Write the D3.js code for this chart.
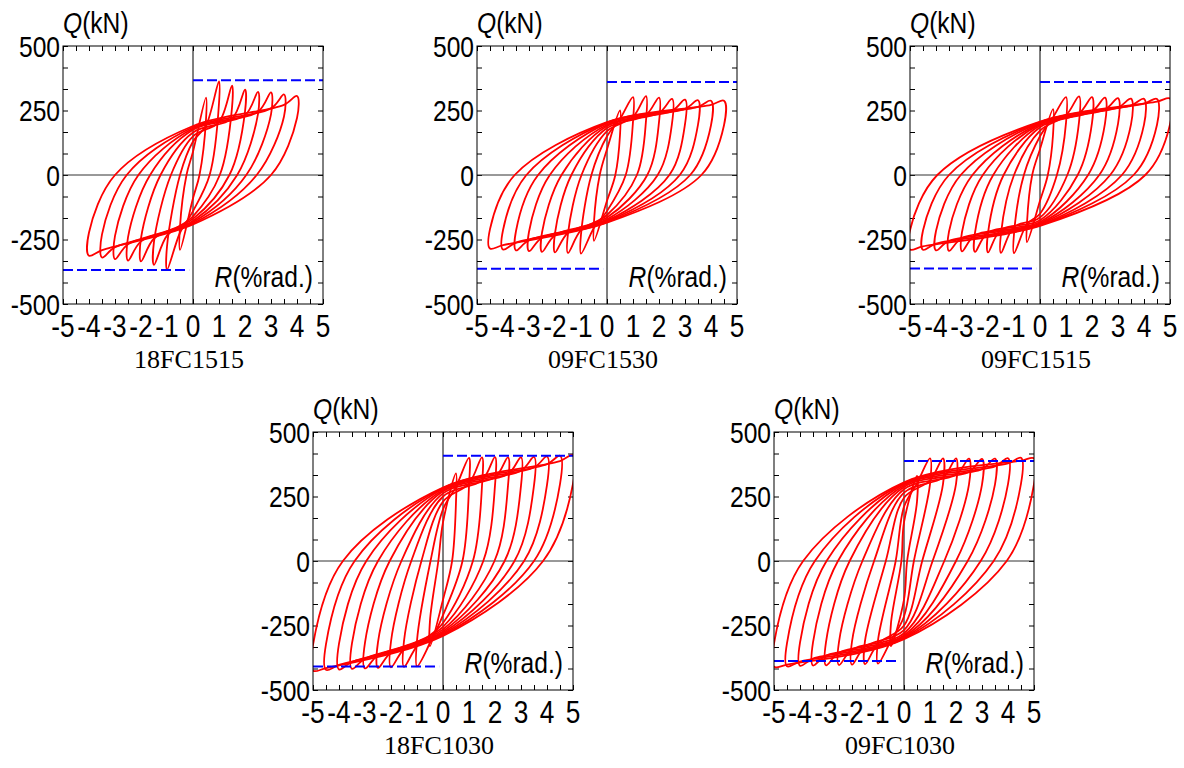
<!DOCTYPE html>
<html>
<head>
<meta charset="utf-8">
<script src="https://cdn.jsdelivr.net/npm/d3@7"></script>
<style>
  body { margin: 0; background: #fff; }
  svg { display: block; }
</style>
</head>
<body>
<svg id="chart" width="1184" height="768"></svg>
<script>
const specimens = ["18FC1515", "09FC1530", "09FC1515", "18FC1030", "09FC1030"];
const xTickLabels = [-5, -4, -3, -2, -1, 0, 1, 2, 3, 4, 5];
const yTickLabels = [-500, -250, 0, 250, 500];

// drift amplitude of each loop (%rad.)
const driftAmp = [
  [0.5, 1, 1.5, 2, 2.5, 3, 3.5, 4],
  [0.5, 1, 1.5, 2, 2.5, 3, 3.5, 4, 4.5],
  [0.5, 1, 1.5, 2, 2.5, 3, 3.5, 4, 4.5, 5],
  [0.5, 1, 1.5, 2, 2.5, 3, 3.5, 4, 4.5, 5],
  [0.5, 1, 1.5, 2, 2.5, 3, 3.5, 4, 4.5, 5]
];
// peak shear at +amplitude (kN)
const peakPosQ = [
  [300, 363, 346, 331, 322, 320, 312, 306],
  [250, 302, 306, 300, 295, 292, 290, 288, 288],
  [255, 302, 305, 302, 300, 298, 296, 295, 295, 296],
  [340, 400, 402, 403, 402, 402, 403, 405, 408, 410],
  [330, 398, 398, 398, 397, 396, 397, 398, 400, 398]
];
// peak shear at -amplitude (kN)
const peakNegQ = [
  [-290, -367, -348, -335, -332, -326, -320, -313],
  [-255, -305, -302, -300, -298, -295, -292, -289, -285],
  [-260, -303, -302, -300, -298, -296, -294, -292, -290, -289],
  [-330, -408, -410, -412, -414, -416, -418, -420, -422, -425],
  [-330, -398, -400, -402, -403, -404, -405, -406, -408, -410]
];
// drift where unloading from + peak crosses Q = 0
const zeroPosR = [
  [0.25, 0.64, 1.03, 1.4, 1.7, 2.05, 2.45, 3.0],
  [0.32, 0.72, 1.15, 1.55, 1.95, 2.4, 2.8, 3.2, 3.63],
  [0.3, 0.65, 1.05, 1.45, 1.85, 2.28, 2.7, 3.15, 3.6, 4.05],
  [0.35, 0.75, 1.15, 1.55, 1.98, 2.37, 2.75, 3.12, 3.5, 3.85],
  [0.12, 0.38, 0.7, 1.1, 1.55, 2.0, 2.45, 2.95, 3.45, 3.95]
];
// drift where unloading from - peak crosses Q = 0
const zeroNegR = [
  [-0.25, -0.5, -0.85, -1.25, -1.65, -2.1, -2.55, -3.0],
  [-0.28, -0.6, -0.98, -1.37, -1.75, -2.2, -2.65, -3.1, -3.55],
  [-0.3, -0.62, -1.0, -1.4, -1.8, -2.2, -2.6, -3.05, -3.5, -3.95],
  [-0.18, -0.48, -0.83, -1.22, -1.6, -2.05, -2.5, -2.95, -3.4, -3.85],
  [-0.1, -0.32, -0.7, -1.15, -1.6, -2.09, -2.54, -2.98, -3.43, -3.88]
];
// shear where each loop crosses R = 0 on its way to + and to -
const crossPosQ = [
  [90, 130, 150, 165, 175, 180, 185, 190],
  [100, 150, 170, 182, 190, 195, 200, 203, 205],
  [100, 150, 172, 185, 192, 197, 200, 203, 205, 207],
  [150, 200, 230, 250, 262, 270, 275, 280, 283, 285],
  [150, 210, 245, 265, 278, 287, 293, 298, 302, 305]
];
const crossNegQ = [
  [-90, -140, -160, -170, -178, -183, -188, -192],
  [-100, -140, -155, -165, -172, -177, -180, -183, -185],
  [-100, -150, -165, -175, -182, -187, -190, -193, -195, -197],
  [-150, -210, -240, -255, -265, -272, -278, -283, -287, -290],
  [-150, -215, -250, -268, -280, -288, -293, -297, -300, -303]
];
// reloading branch shear at R = 1 and R = 4 (positive), R = -1 and R = -4 (negative)
const reloadPosQ = [[205, 285], [225, 272], [231, 277], [300, 375], [312, 378]];
const reloadNegQ = [[-235, -302], [-214, -272], [-201, -266], [-330, -403], [-320, -390]];
// near-vertical drop just after a peak
const dropPosQ = [85, 95, 100, 110, 100];
const dropNegQ = [90, 75, 75, 100, 90];
// blue dashed strength lines
const strengthPosQ = [367, 360, 360, 408, 388];
const strengthNegQ = [-368, -363, -362, -409, -388];

const W = 260, H = 258;
const panelXY = [[63, 46], [477, 46], [910, 46], [313, 432], [774, 432]];
const sans = '"Liberation Sans", Arial, sans-serif';
const squeeze = 0.82; // narrow face look

const svg = d3.select("#chart");

specimens.forEach((name, p) => {
  const [px, py] = panelXY[p];
  const x = d3.scaleLinear().domain([-5, 5]).range([0, W]);
  const y = d3.scaleLinear().domain([-500, 500]).range([H, 0]);
  const g = svg.append("g").attr("transform", `translate(${px},${py})`);

  svg.append("clipPath").attr("id", "clip" + p)
    .append("rect").attr("width", W).attr("height", H);

  // inner ticks on all four sides
  const xMinor = d3.range(-10, 11).map(k => k / 2);
  const yMinor = d3.range(-6, 7).map(k => k * 500 / 6);
  const noDomain = a => a.select(".domain").remove();
  g.append("g").attr("transform", `translate(0,${H})`)
    .call(d3.axisBottom(x).tickValues(xMinor).tickSize(-5).tickFormat("")).call(noDomain);
  g.append("g")
    .call(d3.axisTop(x).tickValues(xMinor).tickSize(-5).tickFormat("")).call(noDomain);
  g.append("g")
    .call(d3.axisLeft(y).tickValues(yMinor).tickSize(-5).tickFormat("")).call(noDomain);
  g.append("g").attr("transform", `translate(${W},0)`)
    .call(d3.axisRight(y).tickValues(yMinor).tickSize(-5).tickFormat("")).call(noDomain);

  // zero lines
  g.append("line").attr("x1", 0).attr("x2", W).attr("y1", y(0)).attr("y2", y(0))
    .attr("stroke", "#333").attr("stroke-width", 1);
  g.append("line").attr("x1", x(0)).attr("x2", x(0)).attr("y1", 0).attr("y2", H)
    .attr("stroke", "#000").attr("stroke-width", 1);

  // hysteresis loops
  const envP = d3.scaleLinear().domain([1, 4]).range(reloadPosQ[p]);
  const envN = d3.scaleLinear().domain([-1, -4]).range(reloadNegQ[p]);
  const line = d3.line().x(d => x(d[0])).y(d => y(d[1]))
    .curve(d3.curveCatmullRomClosed.alpha(0.5));
  const loops = driftAmp[p].map((A, i) => {
    const Aprev = i > 0 ? driftAmp[p][i - 1] : 0;
    const pts = [
      [A, peakPosQ[p][i]],
      [A, peakPosQ[p][i] - dropPosQ[p]],
      [zeroPosR[p][i], 0],
      [0, crossNegQ[p][i]]
    ];
    if (Aprev > 0) pts.push([-Aprev, envN(-Aprev)]);
    pts.push([-A, peakNegQ[p][i]], [-A, peakNegQ[p][i] + dropNegQ[p]],
      [zeroNegR[p][i], 0], [0, crossPosQ[p][i]]);
    if (Aprev > 0) pts.push([Aprev, envP(Aprev)]);
    return pts;
  });
  g.append("g").attr("clip-path", `url(#clip${p})`)
    .selectAll("path").data(loops).join("path")
    .attr("d", line)
    .attr("fill", "none").attr("stroke", "#ff0000").attr("stroke-width", 1.8);

  // strength lines
  g.append("line").attr("x1", x(0)).attr("x2", x(5))
    .attr("y1", y(strengthPosQ[p])).attr("y2", y(strengthPosQ[p]))
    .attr("stroke", "#0000ff").attr("stroke-width", 2).attr("stroke-dasharray", "10,4");
  g.append("line").attr("x1", x(-5)).attr("x2", x(-0.15))
    .attr("y1", y(strengthNegQ[p])).attr("y2", y(strengthNegQ[p]))
    .attr("stroke", "#0000ff").attr("stroke-width", 2).attr("stroke-dasharray", "10,4");

  // frame
  g.append("rect").attr("width", W).attr("height", H)
    .attr("fill", "none").attr("stroke", "#000").attr("stroke-width", 1);

  // tick labels
  g.append("g").selectAll("text").data(xTickLabels).join("text")
    .attr("transform", d => `translate(${x(d)},${H + 33}) scale(${squeeze},1)`)
    .attr("text-anchor", "middle")
    .attr("font-family", sans).attr("font-size", 32)
    .text(d => String(d));
  g.append("g").selectAll("text").data(yTickLabels).join("text")
    .attr("transform", d => `translate(-3,${y(d)}) scale(${squeeze},1)`)
    .attr("dy", "0.36em")
    .attr("text-anchor", "end")
    .attr("font-family", sans).attr("font-size", 30)
    .text(d => String(d));

  // axis titles
  const qt = g.append("text").attr("transform", `translate(0,-13) scale(${squeeze},1)`)
    .attr("font-family", sans).attr("font-size", 30);
  qt.append("tspan").attr("font-style", "italic").text("Q");
  qt.append("tspan").text("(kN)");
  const rt = g.append("text").attr("transform", `translate(${W - 10},${H - 17}) scale(${squeeze},1)`)
    .attr("text-anchor", "end")
    .attr("font-family", sans).attr("font-size", 30);
  rt.append("tspan").attr("font-style", "italic").text("R");
  rt.append("tspan").text("(%rad.)");

  // specimen name
  g.append("text").attr("x", W / 2 - 4).attr("y", H + 64)
    .attr("text-anchor", "middle")
    .attr("font-family", '"Liberation Serif", "Times New Roman", serif')
    .attr("font-size", 26)
    .text(name);
});
</script>
</body>
</html>
